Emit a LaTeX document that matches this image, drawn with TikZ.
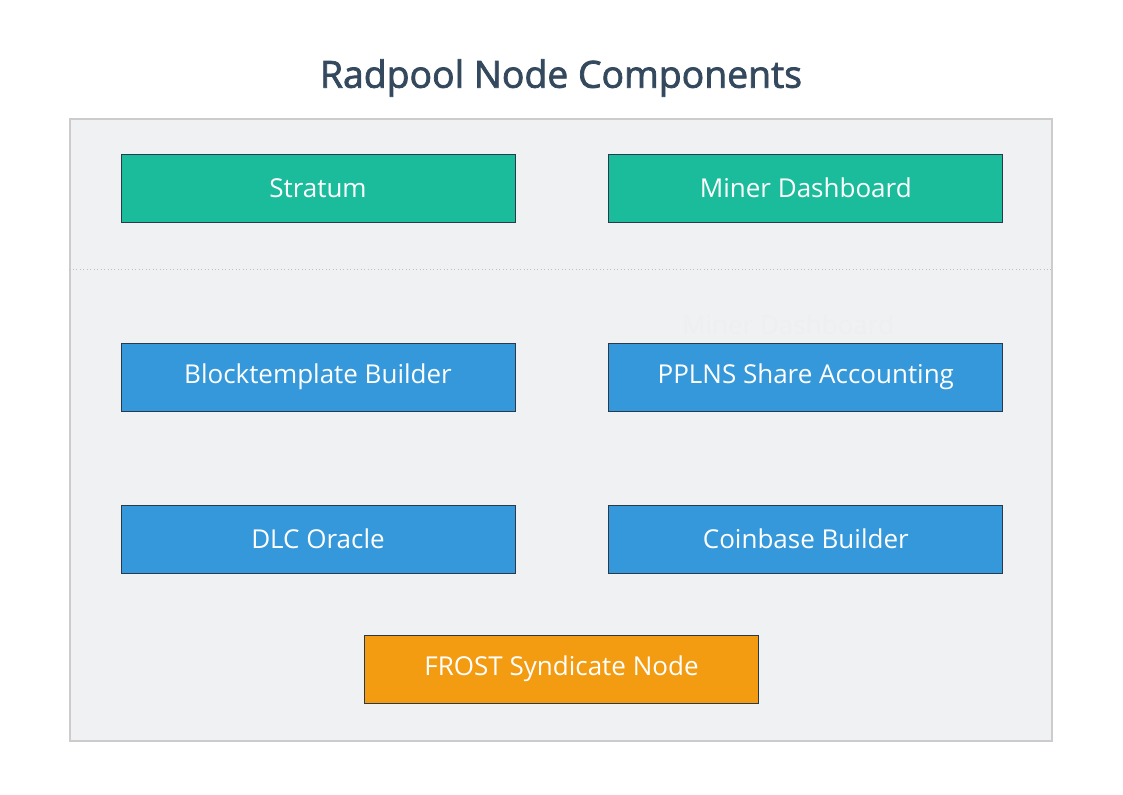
\documentclass[tikz,border=0pt]{standalone}
\usepackage{fontspec}
\setmainfont{Open Sans}
\newfontfamily\titlefont[FakeBold=2]{Open Sans}
\usetikzlibrary{positioning}

\definecolor{slate}{HTML}{34495E}
\definecolor{tealc}{HTML}{1ABC9C}
\definecolor{bluec}{HTML}{3498DB}
\definecolor{orangec}{HTML}{F39C12}
\definecolor{panel}{HTML}{F0F1F3}
\definecolor{ghostc}{HTML}{EDEFF1}

\begin{document}
\begin{tikzpicture}[x=0.75pt, y=-0.75pt, node distance=0mm and 69.75pt,
  common/.style={draw=slate!80!black, line width=0.6pt, minimum width=295.5pt, minimum height=51pt, text=white, font=\fontsize{19.5}{22}\selectfont, inner sep=0pt}]
\tikzstyle{top}=[common, fill=tealc]
\tikzstyle{mid}=[common, fill=bluec]
\tikzstyle{syn}=[common, fill=orangec]
\tikzstyle{titulo}=[font=\titlefont\fontsize{28}{32}\selectfont, text=slate]

\useasboundingbox (0,0) rectangle (1123,794);
\fill[white] (0,0) rectangle (1123,794);

\node (panel) [draw=black!20, fill=panel, line width=0.9pt, minimum width=736.5pt, minimum height=466.5pt, inner sep=0pt] at (561,430) {};
\draw [black!25, dotted, line width=0.6pt] (panel.west |- 0,269) -- (panel.east |- 0,269);
\node (title) [titulo] at (561,78) {Radpool Node Components};
\node (ghost) [font=\fontsize{19.5}{22}\selectfont, text=ghostc] at (788,325) {Miner Dashboard};

% arriba
\node (S) [top] at (318,188) {Stratum};
\node (MD) [top, right=of S] {Miner Dashboard};

% medio
\node (BB) [mid] at (318,377) {Blocktemplate Builder};
\node (PP) [mid, right=of BB] {PPLNS Share Accounting};
\node (DLC) [mid] at (318,539) {DLC Oracle};
\node (CB) [mid, right=of DLC] {Coinbase Builder};

% abajo
\node (FROST) [syn] at (561.5,669) {FROST Syndicate Node};
\end{tikzpicture}
\end{document}
